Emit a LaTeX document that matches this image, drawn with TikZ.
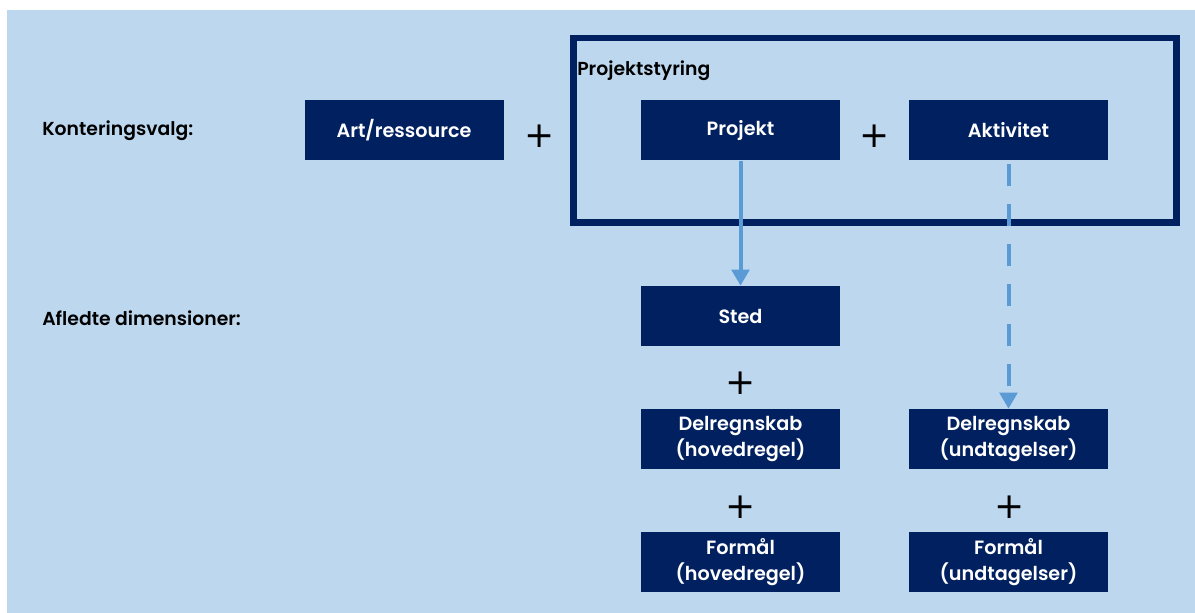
\documentclass[tikz,border=0pt]{standalone}
\usepackage{fontspec}
\setmainfont{Poppins}[BoldFont=* SemiBold]
\newfontfamily\plusfont{DejaVu Sans}
\usetikzlibrary{arrows.meta}
\definecolor{navy}{HTML}{002060}
\definecolor{bgblue}{HTML}{BDD7EE}
\definecolor{arrowblue}{HTML}{5B9BD5}
\begin{document}
\begin{tikzpicture}[x=0.75pt,y=-0.75pt,
  box/.style={fill=navy,text=white,minimum width=149.25pt,minimum height=45pt,inner sep=0pt,align=center,font=\fontsize{14.4pt}{20pt}\selectfont\bfseries},
  lbl/.style={anchor=west,inner sep=0pt,font=\fontsize{14.1pt}{17pt}\selectfont\bfseries},
  plus/.style={inner sep=0pt,font=\plusfont\fontsize{27pt}{27pt}\selectfont},
  conn/.style={arrowblue,line width=3pt,-{Triangle[width=13pt,length=12pt]}}]
\useasboundingbox (0,0) rectangle (1195,613);
\fill[white] (0,0) rectangle (1195,613);
\fill[bgblue] (7,10) rectangle (1195,613);
\draw[navy,line width=5pt] (573.5,38) rectangle (1176.5,222.5);
\node[lbl] (ps) at (577,71) {Projektstyring};
\node[lbl] (kv) at (42,131) {Konteringsvalg:};
\node[lbl] (ad) at (42,318) {Afledte dimensioner:};
\node[box] (art) at (404,130.5) {Art/ressource};
\node[box] (proj) at (740.5,130.5) {Projekt};
\node[box] (akt) at (1008.5,130.5) {Aktivitet};
\node[box] (sted) at (740.5,316) {Sted};
\node[box] (del1) at (740.5,439) {Delregnskab\\(hovedregel)};
\node[box] (del2) at (1008.5,439) {Delregnskab\\(undtagelser)};
\node[box] (for1) at (740.5,562) {Formål\\(hovedregel)};
\node[box] (for2) at (1008.5,562) {Formål\\(undtagelser)};
\node[plus] (p1) at (540,136) {+};
\node[plus] (p2) at (875,136) {+};
\node[plus] (p3) at (741,383) {+};
\node[plus] (p4) at (741,507) {+};
\node[plus] (p5) at (1010,507) {+};
\draw[conn] (proj.south) -- (sted.north);
\draw[conn,dash pattern=on 17pt off 13pt] ([yshift=-2.25pt]akt.south) -- (del2.north);
\end{tikzpicture}
\end{document}
